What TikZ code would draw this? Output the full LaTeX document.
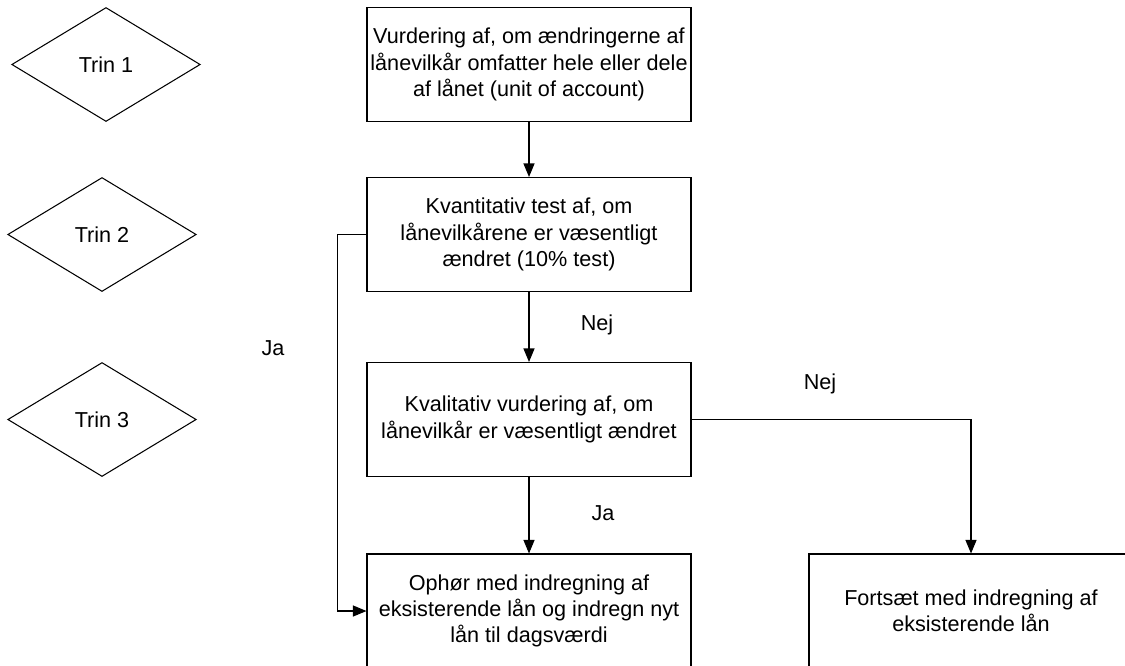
\documentclass[tikz,border=0pt]{standalone}
\usepackage{fontspec}
\setmainfont{Liberation Sans}
\usetikzlibrary{shapes.geometric,arrows.meta}
\tikzset{
  trinbox/.style={draw,rectangle,minimum width=6.48cm,minimum height=2.28cm,align=center,inner sep=0pt},
  trinmark/.style={draw,diamond,minimum width=3.77cm,minimum height=2.28cm,inner sep=0pt},
  pil/.style={-{Triangle[length=0.27cm,width=0.22cm]}},
}
\begin{document}
\begin{tikzpicture}[font=\fontsize{12.3}{15}\selectfont,line width=0.6pt]
  \useasboundingbox (0,0) rectangle (22.5,-13.3);
  \clip (0,0) rectangle (22.5,-13.3);
  % trin
  \node[trinmark] (t1) at (2.12,-1.29) {Trin 1};
  \node[trinmark] (t2) at (2.04,-4.69) {Trin 2};
  \node[trinmark] (t3) at (2.04,-8.39) {Trin 3};
  % kasser
  \node[trinbox] (vurd) at (10.58,-1.29) {Vurdering af, om ændringerne af\\lånevilkår omfatter hele eller dele\\af lånet (unit of account)};
  \node[trinbox] (kvant) at (10.58,-4.69) {Kvantitativ test af, om\\lånevilkårene er væsentligt\\ændret (10\% test)};
  \node[trinbox] (kval) at (10.58,-8.39) {Kvalitativ vurdering af, om\\lånevilkår er væsentligt ændret};
  \node[trinbox] (ophor) at (10.58,-12.22) {Ophør med indregning af\\eksisterende lån og indregn nyt\\lån til dagsværdi};
  \node[trinbox] (forts) at (19.42,-12.22) {Fortsæt med indregning af\\eksisterende lån};
  % pile
  \draw[pil] (vurd) -- (kvant);
  \draw[pil] (kvant) -- (kval);
  \draw[pil] (kval) -- (ophor);
  \draw[pil] (kval.east) -| (forts.north);
  \draw[pil] (kvant.west) -- ++(-0.58,0) |- (ophor.west);
  % tekster
  \node (nej1) at (11.94,-6.5) {Nej};
  \node (ja1) at (12.06,-10.26) {Ja};
  \node (nej2) at (16.4,-7.68) {Nej};
  \node (ja2) at (5.46,-6.96) {Ja};
\end{tikzpicture}
\end{document}
